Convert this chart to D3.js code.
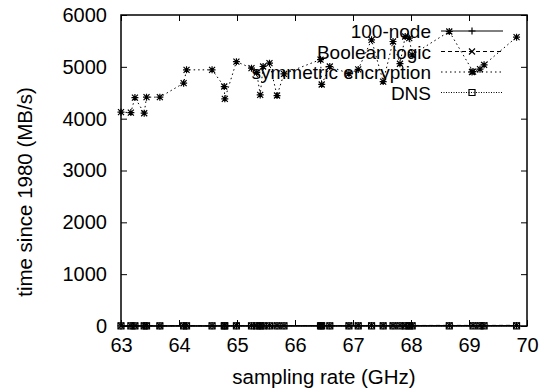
<!DOCTYPE html>
<html>
<head>
<meta charset="utf-8">
<script src="https://cdn.jsdelivr.net/npm/d3@7"></script>
<style>
  body { margin: 0; background: #fff; }
  svg text { font-family: "Liberation Sans", Arial, sans-serif; fill: #000; }
</style>
</head>
<body>
<svg id="chart" width="548" height="391"></svg>
<script>
// sampling rate (GHz) shared by every series
const rates = [63.0, 63.17, 63.24, 63.4, 63.44, 63.67, 64.08, 64.13, 64.57, 64.78, 64.79, 64.99,
  65.25, 65.34, 65.4, 65.45, 65.56, 65.69, 65.81, 66.44, 66.46, 66.6, 66.93, 67.09, 67.32,
  67.52, 67.69, 67.81, 67.9, 67.97, 68.02, 68.66, 69.07, 69.19, 69.26, 69.82];

const symmetric = [4125, 4118, 4407, 4105, 4415, 4415, 4685, 4942, 4942, 4620, 4382, 5100,
  4975, 4890, 4459, 5006, 5071, 4446, 4865, 5140, 4660, 5006, 4870, 4950, 5521,
  4716, 5489, 5060, 5585, 5553, 5232, 5682, 4909, 4955, 5039, 5573];
const node100 = [2, 3, 2, 4, 3, 2, 5, 4, 3, 5, 4, 6, 5, 4, 6, 5, 4, 6, 5, 7, 6, 5, 7, 6, 8,
  7, 6, 8, 7, 8, 7, 9, 8, 9, 8, 10];
const boolean = [5, 6, 5, 7, 6, 5, 8, 7, 6, 8, 7, 9, 8, 7, 9, 8, 7, 9, 8, 10, 9, 8, 10, 9, 11,
  10, 9, 11, 10, 11, 10, 12, 11, 12, 11, 13];
const dns = [1, 1, 1, 2, 1, 1, 2, 2, 1, 2, 2, 2, 2, 1, 2, 2, 2, 2, 2, 3, 2, 2, 3, 2, 3,
  3, 2, 3, 3, 3, 3, 3, 3, 3, 3, 4];

const seriesNames = ['100-node', 'Boolean logic', 'symmetric encryption', 'DNS'];
const xTicks = [63, 64, 65, 66, 67, 68, 69, 70];
const yTicks = [0, 1000, 2000, 3000, 4000, 5000, 6000];

const svg = d3.select('#chart');
const box = { left: 121, right: 527, top: 15, bottom: 326 };

const x = d3.scaleLinear().domain([63, 70]).range([box.left, box.right]);
const y = d3.scaleLinear().domain([0, 6000]).range([box.bottom, box.top]);

const TICK_FONT = '20px';
const TITLE_FONT = '20.5px';
const KEY_FONT = '19px';

// axes: gnuplot style, ticks point inward and are mirrored
const axisB = svg.append('g')
  .attr('transform', `translate(0,${box.bottom})`)
  .call(d3.axisBottom(x).tickValues(xTicks).tickSize(-6).tickPadding(12).tickFormat(d3.format('d')));
const axisT = svg.append('g')
  .attr('transform', `translate(0,${box.top})`)
  .call(d3.axisTop(x).tickValues(xTicks).tickSize(-6).tickFormat(''));
const axisL = svg.append('g')
  .attr('transform', `translate(${box.left},0)`)
  .call(d3.axisLeft(y).tickValues(yTicks).tickSize(-6).tickPadding(14).tickFormat(d3.format('d')));
const axisR = svg.append('g')
  .attr('transform', `translate(${box.right},0)`)
  .call(d3.axisRight(y).tickValues(yTicks).tickSize(-6).tickFormat(''));

[axisB, axisT, axisL, axisR].forEach(g => {
  g.select('.domain').remove();
  g.selectAll('line').attr('stroke', '#000').attr('stroke-width', 1);
  g.selectAll('text').style('font-size', TICK_FONT).attr('font-family', null);
});

svg.append('rect')
  .attr('x', box.left).attr('y', box.top)
  .attr('width', box.right - box.left).attr('height', box.bottom - box.top)
  .attr('fill', 'none').attr('stroke', '#000').attr('stroke-width', 1.5);

// axis titles
svg.append('text')
  .attr('x', (box.left + box.right) / 2).attr('y', 384)
  .attr('text-anchor', 'middle').style('font-size', TITLE_FONT)
  .text('sampling rate (GHz)');
svg.append('text')
  .attr('transform', 'translate(32,192) rotate(-90)')
  .attr('text-anchor', 'middle').style('font-size', TITLE_FONT)
  .text('time since 1980 (MB/s)');

// marker shapes
const markers = {
  plus: 'M-3.5,0h7M0,-3.5v7',
  cross: 'M-3,-3l6,6M-3,3l6,-6',
  star: 'M-3.5,0h7M0,-3.5v7M-3,-3l6,6M-3,3l6,-6',
  box: 'M-3,-3h6v6h-6z',
};

const series = [
  { name: seriesNames[0], values: node100, dash: null, marker: 'plus', color: '#000' },
  { name: seriesNames[1], values: boolean, dash: '4,3', marker: 'cross', color: '#000' },
  { name: seriesNames[2], values: symmetric, dash: '1.5,3', marker: 'star', color: '#000' },
  { name: seriesNames[3], values: dns, dash: '1,1.5', marker: 'box', color: '#000' },
];

const line = d3.line().x(d => x(d[0])).y(d => y(d[1]));

series.forEach(s => {
  const pts = rates.map((r, i) => [r, s.values[i]]);
  svg.append('path')
    .attr('d', line(pts))
    .attr('fill', 'none')
    .attr('stroke', s.color)
    .attr('stroke-width', 1)
    .attr('stroke-dasharray', s.dash);
  svg.append('g').selectAll('path')
    .data(pts)
    .enter()
    .append('path')
    .attr('transform', d => `translate(${x(d[0])},${y(d[1])})`)
    .attr('d', markers[s.marker])
    .attr('fill', 'none')
    .attr('stroke', s.color)
    .attr('stroke-width', 1.2);
});

// legend, top right inside the frame
const legend = svg.append('g');
series.forEach((s, i) => {
  const cy = 31 + i * 20.5;
  legend.append('text')
    .attr('x', 431).attr('y', cy + 7)
    .attr('text-anchor', 'end').style('font-size', KEY_FONT)
    .text(s.name);
  legend.append('line')
    .attr('x1', 441).attr('x2', 503).attr('y1', cy).attr('y2', cy)
    .attr('stroke', s.color).attr('stroke-width', 1)
    .attr('stroke-dasharray', s.dash);
  legend.append('path')
    .attr('transform', `translate(472,${cy})`)
    .attr('d', markers[s.marker])
    .attr('fill', 'none').attr('stroke', s.color).attr('stroke-width', 1.2);
});
</script>
</body>
</html>
